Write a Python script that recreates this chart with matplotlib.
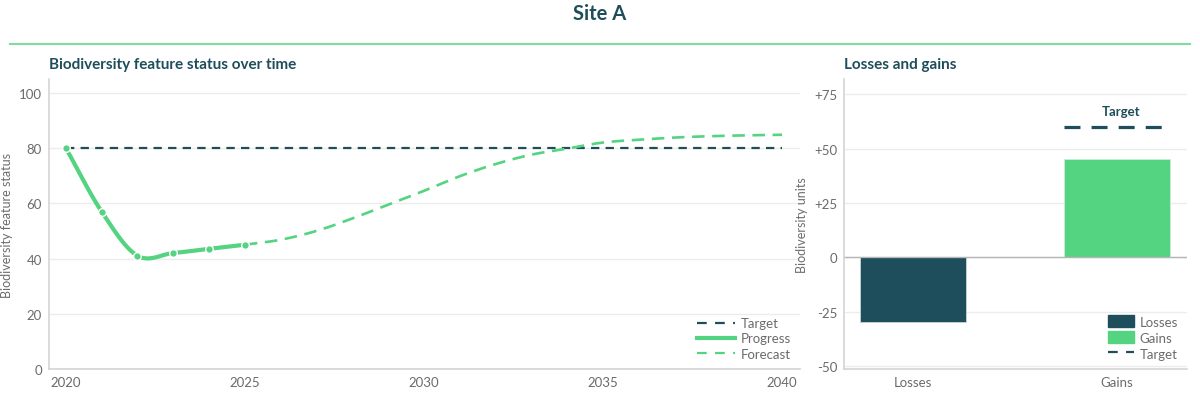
import numpy as np
import matplotlib
matplotlib.use("Agg")
import matplotlib.pyplot as plt
from matplotlib.lines import Line2D
from matplotlib.patches import Patch

# data
progress_years = [2020, 2021, 2022, 2023, 2024, 2025]
progress_vals = [80, 57, 41, 42, 43.5, 45]
forecast_years = list(range(2025, 2041))
forecast_vals = [45, 46.8, 50, 54.5, 59.5, 64.5, 69.8, 74.2, 77.6, 79.8, 82, 83, 83.8, 84.3, 84.6, 84.8]
target_years = [2020, 2040]
target_vals = [80, 80]

bar_cats = ["Losses", "Gains"]
bar_vals = [-30, 45]
gains_target = 60

DARK = "#1e4d5b"
GREEN = "#54d381"
GREY = "#6b6b6b"
GRID = "#ececec"
SPINE = "#d4d4d4"

plt.rcParams["font.family"] = ["Lato", "DejaVu Sans"]
plt.rcParams["lines.scale_dashes"] = False


def smooth(xs, ys, n=20):
    # catmull-rom rendering of the points, the chart draws a spline
    xs = np.asarray(xs, float)
    ys = np.asarray(ys, float)
    px = np.concatenate([[2 * xs[0] - xs[1]], xs, [2 * xs[-1] - xs[-2]]])
    py = np.concatenate([[2 * ys[0] - ys[1]], ys, [2 * ys[-1] - ys[-2]]])
    outx, outy = [], []
    for i in range(1, len(px) - 2):
        t = np.linspace(0, 1, n, endpoint=False)
        for arr, out in ((px, outx), (py, outy)):
            p0, p1, p2, p3 = arr[i - 1], arr[i], arr[i + 1], arr[i + 2]
            out.extend(0.5 * (2 * p1 + (-p0 + p2) * t + (2 * p0 - 5 * p1 + 4 * p2 - p3) * t ** 2
                              + (-p0 + 3 * p1 - 3 * p2 + p3) * t ** 3))
    outx.append(xs[-1])
    outy.append(ys[-1])
    return np.array(outx), np.array(outy)


fig = plt.figure(figsize=(12, 4.02), dpi=100)

fig.text(0.5, 1 - 14 / 402, "Site A", ha="center", va="center", fontsize=14.5,
         fontweight="bold", color=DARK)
fig.add_artist(Line2D([10 / 1200, 1190 / 1200], [1 - 45 / 402, 1 - 45 / 402],
                      color="#7fdc9e", lw=1.5))

# left panel
ax = fig.add_axes([49 / 1200, 1 - 370 / 402, 751 / 1200, 290 / 402])
ax.set_xlim(2019.53, 2040.5)
ax.set_ylim(0, 105)
ax.set_yticks([0, 20, 40, 60, 80, 100])
ax.set_xticks([2020, 2025, 2030, 2035, 2040])
ax.grid(axis="y", color=GRID, lw=1)
ax.set_axisbelow(True)

ax.plot(target_years, target_vals, color=DARK, lw=1.6, dashes=(6, 4.5), label="Target")
fx, fy = smooth(forecast_years, forecast_vals)
ax.plot(fx, fy, color=GREEN, lw=1.9, dashes=(9, 5.5), label="Forecast")
sx, sy = smooth(progress_years, progress_vals)
ax.plot(sx, sy, color=GREEN, lw=3, solid_capstyle="round", label="Progress")
ax.plot(progress_years, progress_vals, "o", color=GREEN, ms=5.5, mec="white", mew=1)

ax.set_ylabel("Biodiversity feature status", color=GREY, fontsize=9)
ax.text(0, 1.052, "Biodiversity feature status over time", transform=ax.transAxes,
        fontsize=11, fontweight="bold", color=DARK, va="center")

handles = [Line2D([], [], color=DARK, lw=1.6, dashes=(7, 6)),
           Line2D([], [], color=GREEN, lw=3),
           Line2D([], [], color=GREEN, lw=1.6, dashes=(7, 6))]
ax.legend(handles, ["Target", "Progress", "Forecast"], loc="lower right", frameon=False,
          fontsize=9.5, labelcolor=GREY, handlelength=2.9, handletextpad=0.4,
          labelspacing=0.25, borderaxespad=0.3)

# right panel
bx = fig.add_axes([844 / 1200, 1 - 370 / 402, 343 / 1200, 290 / 402])
bx.set_xlim(-0.338, 1.343)
bx.set_ylim(-51.4, 82)
bx.set_yticks([-50, -25, 0, 25, 50, 75])
bx.set_yticklabels(["-50", "-25", "0", "+25", "+50", "+75"])
bx.grid(axis="y", color=GRID, lw=1)
bx.set_axisbelow(True)
xs = np.arange(len(bar_cats))
bx.bar(xs[0], bar_vals[0], width=0.52, color=DARK, edgecolor="#c9d3d6", lw=0.6, label="Losses")
bx.bar(xs[1], bar_vals[1], width=0.52, color=GREEN, edgecolor="#c9eed6", lw=0.6, label="Gains")
bx.axhline(0, color="#b5b5b5", lw=1, zorder=1.5)
bx.plot([xs[1] - 0.26, xs[1] + 0.22], [gains_target, gains_target], color=DARK, lw=2.3,
        dashes=(11.5, 8), label="Target")
bx.text(xs[1] + 0.02, gains_target + 4.5, "Target", ha="center", va="bottom",
        fontsize=9.5, fontweight="bold", color=DARK)
bx.set_xticks(xs)
bx.set_xticklabels(bar_cats)
bx.set_ylabel("Biodiversity units", color=GREY, fontsize=9, labelpad=4)
bx.text(0, 1.052, "Losses and gains", transform=bx.transAxes,
        fontsize=11, fontweight="bold", color=DARK, va="center")
bh = [Patch(color=DARK), Patch(color=GREEN),
      Line2D([], [], color=DARK, lw=1.6, dashes=(7, 6))]
bx.legend(bh, ["Losses", "Gains", "Target"], loc="lower right", frameon=False,
          fontsize=9.5, labelcolor=GREY, handlelength=2.0, handleheight=1.1,
          handletextpad=0.4, labelspacing=0.25, borderaxespad=0.3)

for a in (ax, bx):
    for s in ("top", "right"):
        a.spines[s].set_visible(False)
    for s in ("left", "bottom"):
        a.spines[s].set_color(SPINE)
        a.spines[s].set_linewidth(1.2)
    a.tick_params(length=0, colors=GREY, labelsize=9.5, pad=5)

fig.savefig("out.png", dpi=100, facecolor="white")
